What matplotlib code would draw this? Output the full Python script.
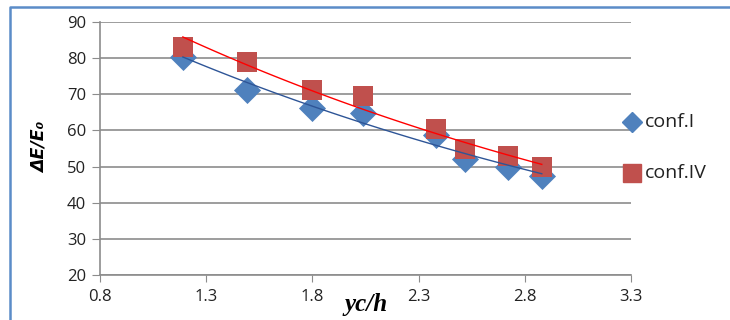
import numpy as np
import matplotlib
matplotlib.use("Agg")
import matplotlib.pyplot as plt
from matplotlib.lines import Line2D

# values
x_conf1 = [1.19, 1.49, 1.80, 2.04, 2.38, 2.52, 2.72, 2.88]
y_conf1 = [80.3, 71.2, 66.2, 64.8, 58.8, 52.0, 49.8, 47.3]
x_conf4 = [1.19, 1.49, 1.80, 2.04, 2.38, 2.52, 2.72, 2.88]
y_conf4 = [83.0, 78.8, 71.1, 69.5, 60.3, 55.0, 53.0, 49.8]
names = ["conf.I", "conf.IV"]
x_ticks = [0.8, 1.3, 1.8, 2.3, 2.8, 3.3]
y_ticks = [20, 30, 40, 50, 60, 70, 80, 90]

blue = "#4F81BD"
red = "#C0504D"
grid_col = "#8C8C8C"
tick_font = "Open Sans"

fig = plt.figure(figsize=(7.3, 3.2), dpi=100)
ax = fig.add_axes([100 / 730, 1 - 275 / 320, 531 / 730, 253 / 320])

# exponential trendlines (like the spreadsheet ones)
def expo_fit(x, y):
    b, log_a = np.polyfit(x, np.log(y), 1)
    xs = np.linspace(min(x), max(x), 100)
    return xs, np.exp(log_a) * np.exp(b * xs)

ax.scatter(x_conf1, y_conf1, marker="D", s=190, color=blue, zorder=3, linewidths=0)
ax.scatter(x_conf4, y_conf4, marker="s", s=210, color=red, zorder=4, linewidths=0)
xs, ys = expo_fit(x_conf1, y_conf1)
ax.plot(xs, ys, color="#2E5597", lw=1.0, zorder=5)
xs, ys = expo_fit(x_conf4, y_conf4)
ax.plot(xs, ys, color="#FF0000", lw=1.0, zorder=5)

ax.set_xlim(0.8, 3.3)
ax.set_ylim(20, 90)
ax.set_xticks(x_ticks)
ax.set_yticks(y_ticks)
ax.set_xticklabels([f"{t:.1f}" for t in x_ticks], fontsize=12, family=tick_font, color="#222222")
ax.set_yticklabels([str(t) for t in y_ticks], fontsize=12, family=tick_font, color="#222222")
ax.tick_params(axis="x", direction="out", length=5, color=grid_col, pad=5)
ax.tick_params(axis="y", direction="out", length=6, color=grid_col, pad=4)
ax.grid(axis="y", color=grid_col, lw=1.2)
ax.set_axisbelow(True)
for side in ["top", "right"]:
    ax.spines[side].set_visible(False)
for side in ["left", "bottom"]:
    ax.spines[side].set_color(grid_col)
    ax.spines[side].set_linewidth(1.2)

# axis titles
fig.text(40 / 730, 1 - 147 / 320, "ΔE/E₀", rotation=90, ha="center", va="center",
         fontsize=12.5, fontweight="bold", fontstyle="italic", family="DejaVu Sans")
fig.text(366 / 730, 1 - 305 / 320, "yc/h", ha="center", va="center",
         fontsize=18, fontweight="bold", fontstyle="italic", family="Liberation Serif")

# legend on the right
fig.add_artist(Line2D([632 / 730], [1 - 122 / 320], marker="D", ms=10, color=blue, lw=0))
fig.text(645 / 730, 1 - 122 / 320, names[0], va="center", fontsize=14, family=tick_font, color="#222222")
fig.add_artist(Line2D([632 / 730], [1 - 173 / 320], marker="s", ms=13, color=red, lw=0))
fig.text(645 / 730, 1 - 173 / 320, names[1], va="center", fontsize=14, family=tick_font, color="#222222")

# chart frame
fig.add_artist(Line2D([10 / 730, 10 / 730, 1], [0, 1 - 7 / 320, 1 - 7 / 320], color="#5B8CC8", lw=1.8))

fig.savefig("out.png", dpi=100)
